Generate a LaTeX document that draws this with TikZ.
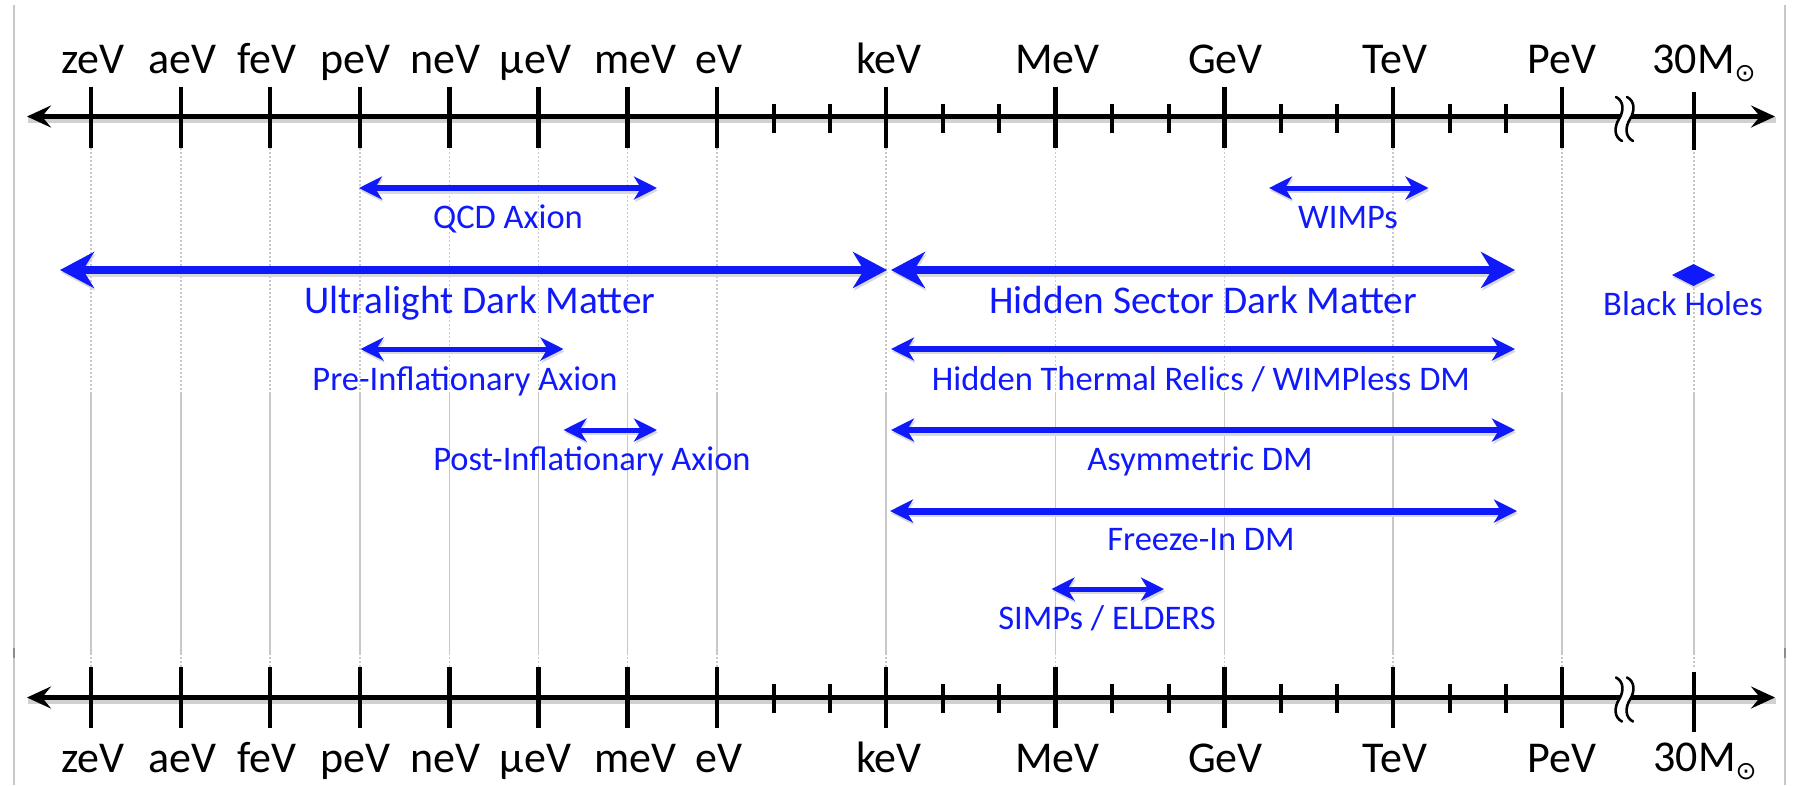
\documentclass[tikz,border=0pt]{standalone}
\usepackage{fontspec}
\setmainfont{Carlito}
\newfontfamily\dejavu{DejaVu Sans}
\usetikzlibrary{arrows.meta}
\definecolor{dmblue}{RGB}{15,25,250}
\definecolor{gridgray}{RGB}{200,200,200}
\newcommand\dmarrow[3]{%
  \draw[#1, draw=black!15, transform canvas={shift={(1pt,-2.5pt)}}] (#2) -- (#3);
  \draw[#1] (#2) -- (#3);}
\newcommand\dmbreak[1]{%
  \begin{scope}[shift={(1616,#1)}]
    \fill[white] (0,-22) .. controls (8,-18) and (8,-8) .. (3,0) .. controls (-2,8) and (-2,18) .. (6,22)
      -- (17,22) .. controls (9,18) and (9,8) .. (14,0) .. controls (19,-8) and (19,-18) .. (11,-22) -- cycle;
    \draw[line width=2.6pt, line cap=round] (0,-22) .. controls (8,-18) and (8,-8) .. (3,0) .. controls (-2,8) and (-2,18) .. (6,22);
    \draw[line width=2.6pt, line cap=round] (11,-22) .. controls (19,-18) and (19,-8) .. (14,0) .. controls (9,8) and (9,18) .. (17,22);
  \end{scope}}
\newcommand\dmsun{\raisebox{-8pt}{\fontsize{25}{25}\selectfont\dejavu ⊙}}
\begin{document}
\begin{tikzpicture}[x=1pt,y=-1pt,
  axisline/.style={line width=5pt, black, {Stealth[length=24pt,width=22pt,inset=9pt]}-{Stealth[length=24pt,width=22pt,inset=9pt]}},
  axshadow/.style={line width=6pt, black!18, transform canvas={shift={(1pt,-3pt)}}},
  majortick/.style={line width=4.5pt, black},
  minortick/.style={line width=4pt, black},
  griddot/.style={gridgray, line width=1.5pt, dash pattern=on 2pt off 2pt},
  gridsolid/.style={gridgray, line width=1.5pt},
  axlabel/.style={font=\fontsize{44}{50}\selectfont, anchor=base, inner sep=0pt},
  biglabel/.style={font=\fontsize{39.3}{45}\selectfont, text=dmblue, anchor=base, inner sep=0pt},
  smalllabel/.style={font=\fontsize{34.5}{40}\selectfont, text=dmblue, anchor=base, inner sep=0pt},
  dmthick/.style={line width=8pt, dmblue, {Stealth[length=34pt,width=36pt,inset=11pt]}-{Stealth[length=34pt,width=36pt,inset=11pt]}},
  dmrange/.style={line width=#1, dmblue, {Stealth[length=23pt,width=23pt,inset=7pt]}-{Stealth[length=23pt,width=23pt,inset=7pt]}},
  dmrange/.default=5pt
]
\useasboundingbox (0,0) rectangle (1793,785);
% frame edges
\draw[gridgray, line width=1.5pt] (14,5) -- (14,785);
\draw[gridgray, line width=1.5pt] (1785,5) -- (1785,785);
\draw[black!45, line width=1.5pt] (14,648) -- (14,658);
\draw[black!45, line width=1.5pt] (1785,648) -- (1785,658);
% grid lines
\foreach \gx in {91,181,270,360,449.5,538.5,627.5,717,886,1055.5,1224.5,1393,1562,1694} {
  \draw[griddot] (\gx,148) -- (\gx,393);
  \draw[gridsolid] (\gx,393) -- (\gx,653);
  \draw[griddot] (\gx,653) -- (\gx,667);
}
% axes
\coordinate (topL) at (27,116.5);
\coordinate (topR) at (1775,116.5);
\coordinate (botL) at (27,697.5);
\coordinate (botR) at (1775,697.5);
\draw[axshadow] (topL) -- (topR);
\draw[axshadow] (botL) -- (botR);
\draw[axisline] (topL) -- (topR);
\draw[axisline] (botL) -- (botR);
\foreach \tx in {91,181,270,360,449.5,538.5,627.5,717,886,1055.5,1224.5,1393,1562} {
  \draw[majortick] (\tx,86.5) -- (\tx,148);
  \draw[majortick] (\tx,667) -- (\tx,728);
}
\draw[majortick] (1694,91.5) -- (1694,150);
\draw[majortick] (1694,672) -- (1694,732);
\foreach \tx in {773.5,830,942.5,999,1112,1168.5,1281,1337,1449.5,1505.5} {
  \draw[minortick] (\tx,103.5) -- (\tx,133);
  \draw[minortick] (\tx,684) -- (\tx,713);
}
\dmbreak{119}
\dmbreak{699.5}
% axis labels
\foreach \lx/\lt/\nm in {93/zeV/z,182.5/aeV/a,267/feV/f,355/peV/p,445/neV/n,535.5/μeV/mu,635.5/meV/m,719/eV/e,889/keV/k,1057.5/MeV/M,1225.5/GeV/G,1395/TeV/T,1562/PeV/P} {
  \node[axlabel] (top\nm) at (\lx,73) {\lt};
  \node[axlabel] (bot\nm) at (\lx,772) {\lt};
}
\node[axlabel] (topsun) at (1704,73) {30M\dmsun};
\node[axlabel] (botsun) at (1705,771) {30M\dmsun};
% range endpoints
\coordinate (qcdL) at (359,188);     \coordinate (qcdR) at (657,188);
\coordinate (wimpL) at (1269,188);   \coordinate (wimpR) at (1428.5,188);
\coordinate (ulL) at (60,270);       \coordinate (ulR) at (887,270);
\coordinate (hsL) at (891,270);      \coordinate (hsR) at (1515,270);
\coordinate (preL) at (360.5,349);   \coordinate (preR) at (563.5,349);
\coordinate (htL) at (891,349);      \coordinate (htR) at (1515,349);
\coordinate (postL) at (563.5,430);  \coordinate (postR) at (657,430);
\coordinate (asL) at (891,430);      \coordinate (asR) at (1515,430);
\coordinate (fiL) at (890,511);      \coordinate (fiR) at (1517,511);
\coordinate (siL) at (1051.5,589);   \coordinate (siR) at (1164,589);
\dmarrow{dmrange=6.5pt}{qcdL}{qcdR}
\dmarrow{dmrange=5pt}{wimpL}{wimpR}
\dmarrow{dmthick}{ulL}{ulR}
\dmarrow{dmthick}{hsL}{hsR}
\dmarrow{dmrange=5pt}{preL}{preR}
\dmarrow{dmrange=5.5pt}{htL}{htR}
\dmarrow{dmrange=5pt}{postL}{postR}
\dmarrow{dmrange=6pt}{asL}{asR}
\dmarrow{dmrange=7pt}{fiL}{fiR}
\dmarrow{dmrange=5pt}{siL}{siR}
% black holes marker
\fill[black!15] (1673,277.5) -- (1694.5,266.5) -- (1716,277.5) -- (1694.5,288.5) -- cycle;
\fill[dmblue] (1672,275) -- (1693.5,264) -- (1715,275) -- (1693.5,286) -- cycle;
% range labels
\node[smalllabel] (qcd) at (508,228) {QCD Axion};
\node[smalllabel] (wimps) at (1348,228) {WIMPs};
\node[biglabel] (ul) at (480,313) {Ultralight Dark Matter};
\node[biglabel] (hs) at (1203,313) {Hidden Sector Dark Matter};
\node[smalllabel] (bh) at (1683,315) {Black Holes};
\node[smalllabel] (pre) at (465,390) {Pre-Inflationary Axion};
\node[smalllabel] (ht) at (1201,390) {Hidden Thermal Relics / WIMPless DM};
\node[smalllabel] (post) at (592,470) {Post-Inflationary Axion};
\node[smalllabel] (asym) at (1200,470) {Asymmetric DM};
\node[smalllabel] (fi) at (1201,550) {Freeze-In DM};
\node[smalllabel] (simp) at (1107,629) {SIMPs / ELDERS};
\end{tikzpicture}
\end{document}
